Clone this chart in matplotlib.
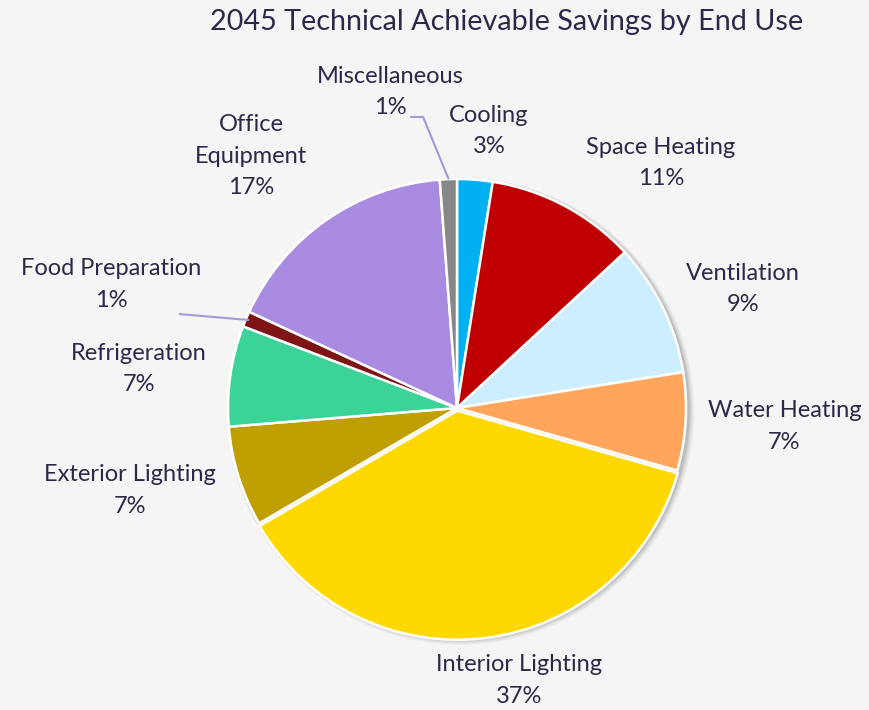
import matplotlib
matplotlib.use("Agg")
import matplotlib.pyplot as plt
import numpy as np
from matplotlib.patches import Circle

categories = ["Cooling", "Space Heating", "Ventilation", "Water Heating", "Interior Lighting",
              "Exterior Lighting", "Refrigeration", "Food Preparation", "Office Equipment", "Miscellaneous"]
values = [2.5, 10.6, 9.4, 6.9, 37.2, 7.1, 7.1, 1.1, 16.9, 1.2]
pct_labels = ["3%", "11%", "9%", "7%", "37%", "7%", "7%", "1%", "17%", "1%"]
display_names = ["Cooling", "Space Heating", "Ventilation", "Water Heating", "Interior Lighting",
                 "Exterior Lighting", "Refrigeration", "Food Preparation", "Office\nEquipment", "Miscellaneous"]
colors = ["#00B0F0", "#C00000", "#CCEEFF", "#FFA55C", "#FFD800",
          "#BFA000", "#3CD399", "#7E1414", "#A98BE1", "#878787"]
explode = [0, 0, 0, 0, 0.012, 0, 0, 0, 0, 0]

# label positions in units of the pie radius (layout)
label_pos = [(0.14, 1.21), (0.89, 1.07), (1.25, 0.52), (1.43, -0.08), (0.27, -1.19),
             (-1.43, -0.36), (-1.39, 0.17), (-1.51, 0.54), (-0.90, 1.10), (-0.29, 1.38)]

bg = "#F5F5F5"
txt = "#2A2A48"
plt.rcParams['font.family'] = ['Lato', 'DejaVu Sans']

fig = plt.figure(figsize=(8.69, 7.10), dpi=100, facecolor=bg)
W, H = 869, 710
R = 229
cx, cy = 457, 408
scale = 1.0 / R
x0 = -cx * scale
x1 = (W - cx) * scale
y1 = cy * scale
y0 = -(H - cy) * scale
ax = fig.add_axes([0, 0, 1, 1])
ax.set_facecolor(bg)
ax.set_aspect('equal')
ax.axis('off')

# soft shadow
for i, a in enumerate([0.04, 0.05, 0.07, 0.09]):
    off = (4 - i) * 0.005
    ax.add_patch(Circle((0.010 + off * 0.3, -0.008 - off * 0.3), 1.0 + off, color="#000000", alpha=a, lw=0, zorder=0))

wedges, _ = ax.pie(values, colors=colors, startangle=90, counterclock=False, explode=explode,
                   radius=1.0, center=(0, 0),
                   wedgeprops=dict(edgecolor="white", linewidth=1.8))
ax.set_xlim(x0, x1)
ax.set_ylim(y0, y1)

for name, pct, (lx, ly) in zip(display_names, pct_labels, label_pos):
    ax.text(lx, ly, name + "\n" + pct, ha="center", va="center", fontsize=17, color=txt,
            linespacing=1.63)

ang_cum = np.cumsum([0] + values)
def edge_point(i):
    mid = (ang_cum[i] + ang_cum[i + 1]) / 2
    theta = np.deg2rad(90 - mid / 100 * 360)
    return np.cos(theta), np.sin(theta)

mx, my = edge_point(9)
ax.plot([-0.20, -0.148, mx * 1.003], [1.271, 1.271, my * 1.003], color="#A39AD8", lw=1.5, zorder=5)
fx, fy = edge_point(7)
ax.plot([-1.21, fx * 0.99], [0.41, fy * 0.99], color="#A39AD8", lw=1.5, zorder=5)

ax.text((507 - cx) * scale, (cy - 22) * scale, "2045 Technical Achievable Savings by End Use",
        ha="center", va="center", fontsize=20.7, color=txt)

fig.savefig("out.png", dpi=100, facecolor=bg)
